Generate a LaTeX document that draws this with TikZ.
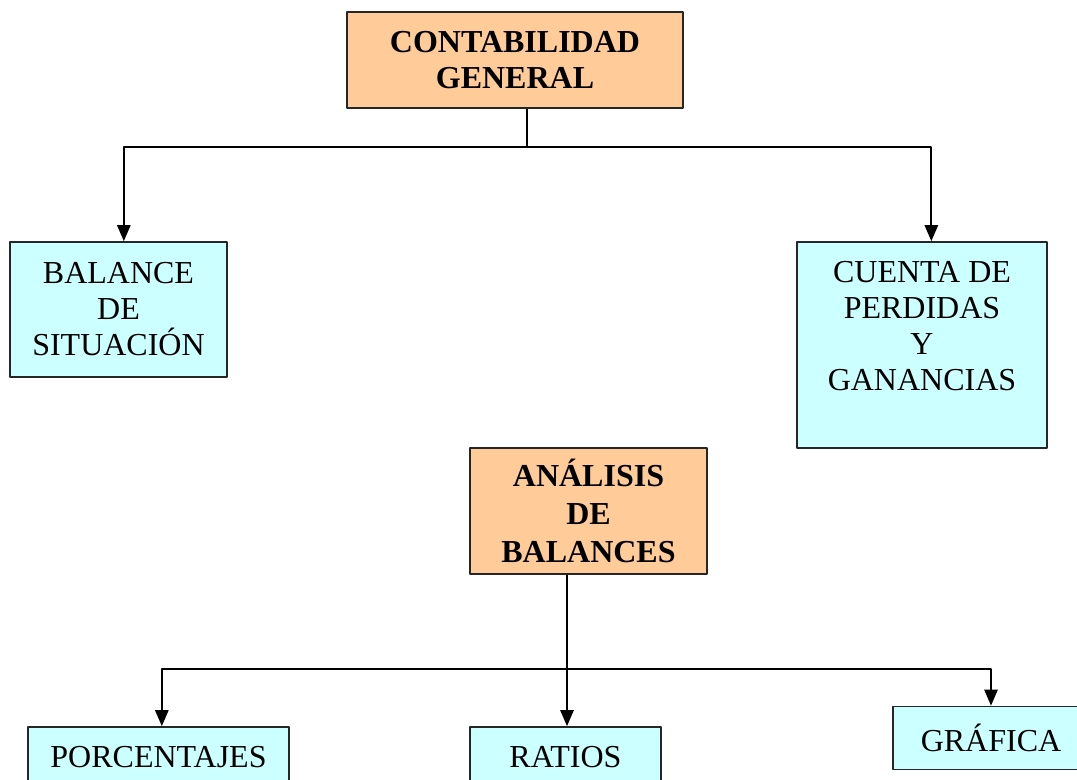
\documentclass[tikz,border=0pt]{standalone}
\usepackage{fontspec}
\setmainfont{Liberation Serif}
\usetikzlibrary{arrows.meta}
\definecolor{naranja}{HTML}{FFCC99}
\definecolor{celeste}{HTML}{CCFFFF}
\begin{document}
\begin{tikzpicture}[x=.75pt,y=-.75pt,line join=round,line width=1.3pt,
	caja/.style={draw=black!85,align=center,inner sep=0pt,font=\fontsize{24}{27}\selectfont},
	tit/.style={caja,fill=naranja,font=\fontsize{24}{27}\selectfont\bfseries},
	hoja/.style={caja,fill=celeste},
	flecha/.style={-{Triangle[length=12pt,width=10pt]}}]
	\useasboundingbox (0,0) rectangle (1077,780);
	\node[tit,minimum width=252pt,minimum height=72pt] (cg) at (515,60) {CONTABILIDAD\\GENERAL};
	\node[hoja,minimum width=162.75pt,minimum height=101.25pt] (bal) at (118.5,309.5) {BALANCE\\DE\\SITUACIÓN};
	\node[hoja,minimum width=187.5pt,minimum height=154.5pt,text depth=28pt] (cue) at (922,345) {CUENTA DE\\PERDIDAS\\Y\\GANANCIAS};
	\node[tit,minimum width=177.75pt,minimum height=94.5pt,font=\fontsize{24}{28.5}\selectfont\bfseries] (ana) at (588.5,511) {ANÁLISIS\\DE\\BALANCES};
	\node[hoja,minimum width=195.75pt,minimum height=45pt] (por) at (158.5,757) {PORCENTAJES};
	\node[hoja,minimum width=143.25pt,minimum height=45pt] (rat) at (565.5,757) {RATIOS};
	\node[hoja,minimum width=147pt,minimum height=47.25pt] (gra) at (991,738) {GRÁFICA};
	\coordinate (j1) at (527,147);
	\coordinate (j2) at (567,669);
	\draw (cg.south -| j1)--(j1);
	\draw[flecha] (j1) -| ([xshift=4pt]bal.north);
	\draw[flecha] (j1) -| ([xshift=7pt]cue.north);
	\draw[flecha] (ana.south -| j2)--(rat.north -| j2);
	\draw[flecha] (j2) -| ([xshift=2.5pt]por.north);
	\draw[flecha] (j2) -| (gra.north);
\end{tikzpicture}
\end{document}
